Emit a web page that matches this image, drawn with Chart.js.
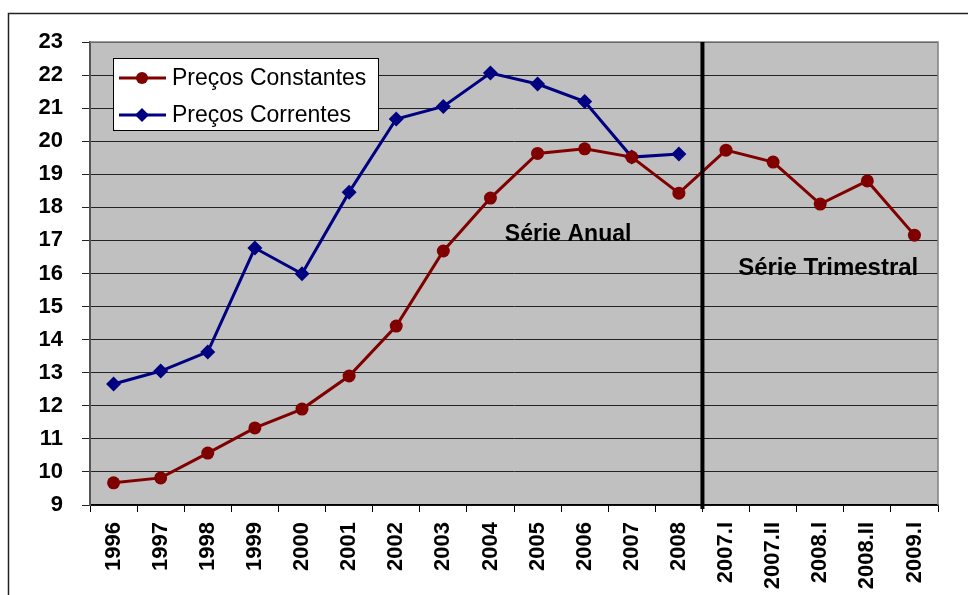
<!DOCTYPE html>
<html>
<head>
<meta charset="utf-8">
<script src="https://cdn.jsdelivr.net/npm/chart.js@4/dist/chart.umd.min.js"></script>
<style>
html,body{margin:0;padding:0;background:#fff;}
#wrap{width:968px;height:595px;position:relative;}
</style>
</head>
<body>
<div id="wrap"><canvas id="c" width="968" height="595"></canvas></div>
<script>
const categories = ["1996","1997","1998","1999","2000","2001","2002","2003","2004","2005","2006","2007","2008","2007.I","2007.II","2008.I","2008.II","2009.I"];
const precosConstantes = [9.67,9.82,10.57,11.33,11.9,12.9,14.41,16.68,18.28,19.63,19.77,19.52,18.43,19.73,19.37,18.1,18.8,17.16];
const precosCorrentes = [12.66,13.05,13.63,16.77,15.99,18.46,20.67,21.05,22.06,21.73,21.2,19.52,19.61,null,null,null,null,null];
const seriesNames = ["Preços Constantes","Preços Correntes"];
const annotationLabels = ["Série Anual","Série Trimestral"];
const yMin = 9, yMax = 23;

const RED = "#800000", BLUE = "#000080";

const decor = {
  id: "decor",
  beforeDraw(chart) {
    const ctx = chart.ctx, a = chart.chartArea;
    ctx.save();
    ctx.fillStyle = "#fff";
    ctx.fillRect(0, 0, chart.width, chart.height);
    ctx.strokeStyle = "#222";
    ctx.lineWidth = 1.5;
    ctx.beginPath();
    ctx.moveTo(8.5, chart.height + 2);
    ctx.lineTo(8.5, 13.5);
    ctx.lineTo(chart.width + 2, 13.5);
    ctx.stroke();
    ctx.fillStyle = "#C0C0C0";
    ctx.fillRect(a.left, a.top, a.right - a.left, a.bottom - a.top);
    ctx.restore();
  },
  afterDraw(chart) {
    const ctx = chart.ctx, a = chart.chartArea;
    const xs = chart.scales.x, ys = chart.scales.y;
    ctx.save();
    ctx.strokeStyle = "#808080";
    ctx.lineWidth = 1.5;
    ctx.beginPath();
    ctx.moveTo(a.left, a.top);
    ctx.lineTo(a.right, a.top);
    ctx.lineTo(a.right, a.bottom);
    ctx.stroke();
    const dx = (xs.getPixelForValue(12) + xs.getPixelForValue(13)) / 2;
    ctx.strokeStyle = "#000";
    ctx.lineWidth = 4;
    ctx.beginPath();
    ctx.moveTo(dx, a.top);
    ctx.lineTo(dx, a.bottom + 4);
    ctx.stroke();
    ctx.fillStyle = "#000";
    ctx.textAlign = "center";
    ctx.textBaseline = "alphabetic";
    ctx.font = "bold 23px 'Liberation Sans', Arial, sans-serif";
    ctx.fillText(annotationLabels[0], (xs.getPixelForValue(9) + xs.getPixelForValue(10)) / 2 + 7, ys.getPixelForValue(16.98));
    ctx.font = "bold 24px 'Liberation Sans', Arial, sans-serif";
    ctx.fillText(annotationLabels[1], xs.getPixelForValue(15) + 8, ys.getPixelForValue(15.96));
    const lx = 113, ly = 58, lw = 265, lh = 72;
    ctx.fillStyle = "#fff";
    ctx.fillRect(lx, ly, lw, lh);
    ctx.strokeStyle = "#000";
    ctx.lineWidth = 1;
    ctx.strokeRect(lx + 0.5, ly + 0.5, lw, lh);
    const rows = [[RED, "circle", 78, seriesNames[0]], [BLUE, "diamond", 115, seriesNames[1]]];
    ctx.font = "23px 'Liberation Sans', Arial, sans-serif";
    ctx.textAlign = "left";
    ctx.textBaseline = "middle";
    for (const [col, shape, y, label] of rows) {
      ctx.strokeStyle = col;
      ctx.lineWidth = 3;
      ctx.beginPath();
      ctx.moveTo(119, y);
      ctx.lineTo(166, y);
      ctx.stroke();
      ctx.fillStyle = col;
      ctx.beginPath();
      if (shape === "circle") {
        ctx.arc(142, y, 6, 0, Math.PI * 2);
      } else {
        ctx.moveTo(142, y - 7); ctx.lineTo(149, y); ctx.lineTo(142, y + 7); ctx.lineTo(135, y); ctx.closePath();
      }
      ctx.fill();
      ctx.fillStyle = "#000";
      ctx.fillText(label, 172, y + 1);
    }
    ctx.restore();
  }
};

new Chart(document.getElementById("c"), {
  type: "line",
  data: {
    labels: categories,
    datasets: [
      {
        label: seriesNames[0],
        data: precosConstantes,
        borderColor: RED,
        backgroundColor: RED,
        borderWidth: 3,
        pointStyle: "circle",
        pointRadius: 6.5,
        pointHoverRadius: 6.5,
        pointBorderWidth: 0,
        tension: 0,
        clip: false
      },
      {
        label: seriesNames[1],
        data: precosCorrentes,
        borderColor: BLUE,
        backgroundColor: BLUE,
        borderWidth: 3,
        pointStyle: "rectRot",
        pointRadius: 7.5,
        pointHoverRadius: 7.5,
        pointBorderWidth: 0,
        tension: 0,
        spanGaps: false,
        clip: false
      }
    ]
  },
  options: {
    responsive: false,
    animation: false,
    devicePixelRatio: 1,
    layout: { padding: { left: 0, right: 30, top: 42, bottom: 0 } },
    plugins: { legend: { display: false }, tooltip: { enabled: false } },
    scales: {
      x: {
        type: "category",
        offset: true,
        afterFit(s) { s.height = 90; },
        grid: { offset: true, drawOnChartArea: false, drawTicks: true, tickLength: 7, color: "#000", lineWidth: 1 },
        border: { color: "#000", width: 1.5 },
        ticks: {
          autoSkip: false,
          maxRotation: 90,
          minRotation: 90,
          padding: 10,
          color: "#000",
          font: { family: "'Liberation Sans', Arial, sans-serif", size: 22, weight: "bold" }
        }
      },
      y: {
        min: yMin,
        max: yMax,
        afterFit(s) { s.width = 90; },
        grid: { color: "#222", lineWidth: 1, tickLength: 8, drawTicks: true },
        border: { color: "#555", width: 2 },
        ticks: {
          stepSize: 1,
          padding: 19,
          color: "#000",
          font: { family: "'Liberation Sans', Arial, sans-serif", size: 22, weight: "bold" }
        }
      }
    }
  },
  plugins: [decor]
});
</script>
</body>
</html>
